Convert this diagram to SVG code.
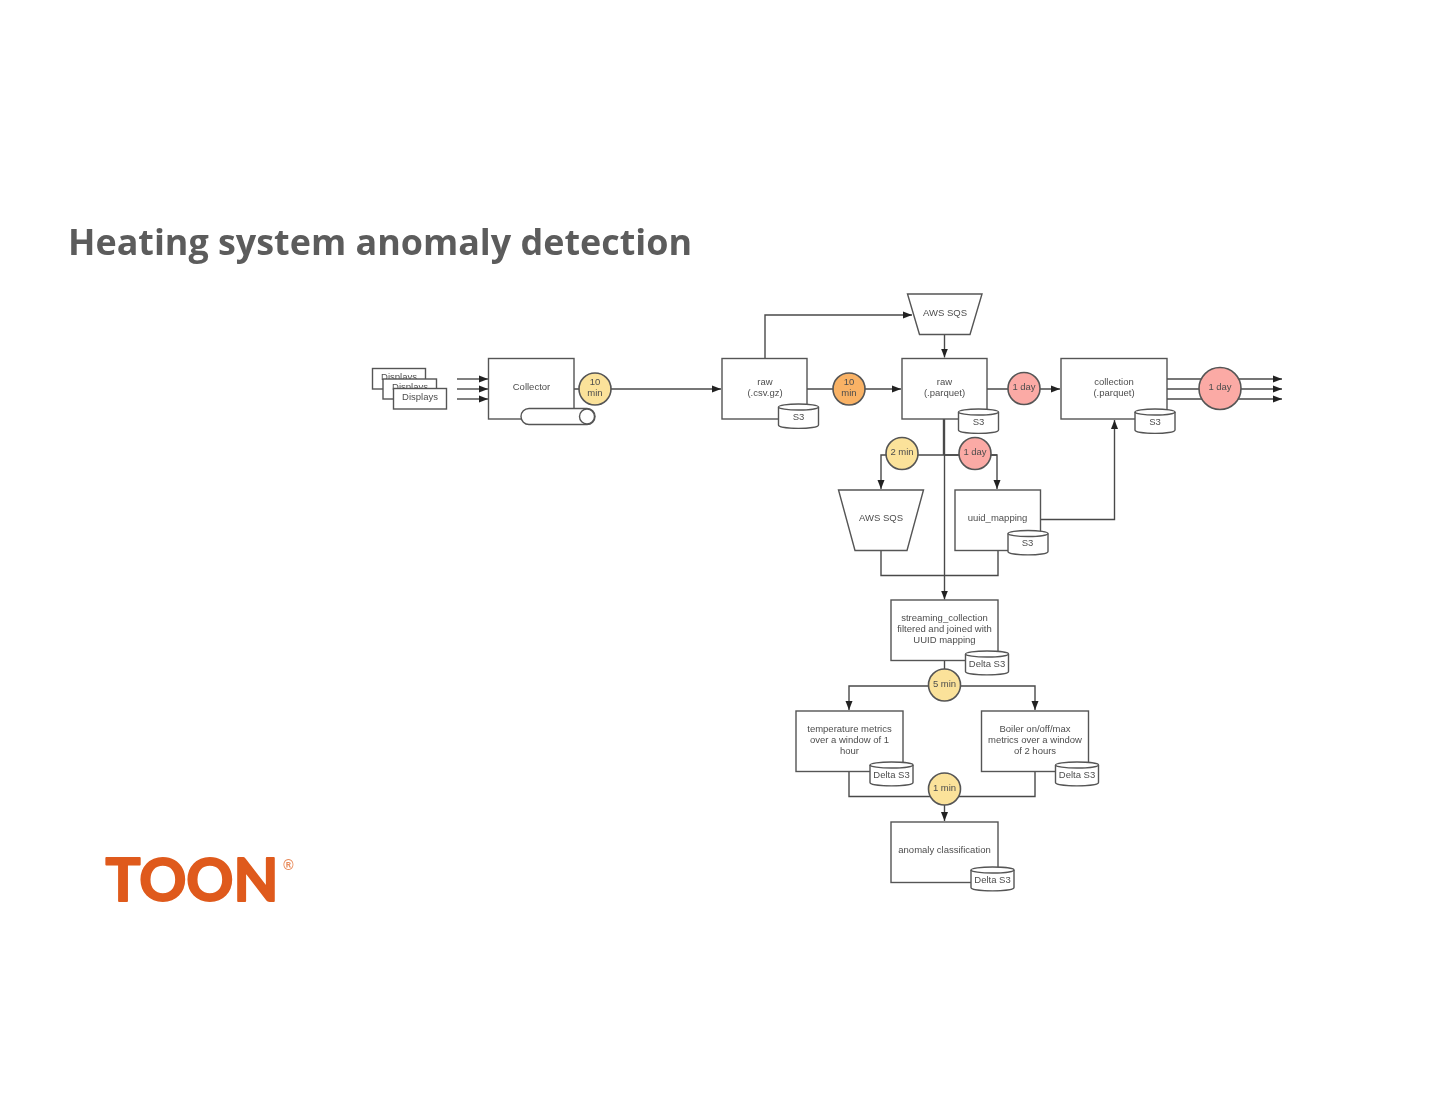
<svg xmlns="http://www.w3.org/2000/svg" width="1440" height="1114" viewBox="0 0 1440 1114">
<style>
.b{fill:#fff;stroke:#555;stroke-width:1.4}
.c{fill:none;stroke:#4a4a4a;stroke-width:1.4}
.t{font-family:"Liberation Sans",Arial,sans-serif;font-size:9.5px;fill:#4d4d4d;text-anchor:middle;transform:translateY(-0.8px)}
.y{fill:#fbe29a;stroke:#555;stroke-width:1.6}
.o{fill:#f9b265;stroke:#555;stroke-width:1.6}
.r{fill:#fbaaa5;stroke:#555;stroke-width:1.6}
</style>
<defs>
<filter id="soft" x="-5%" y="-5%" width="110%" height="110%"><feGaussianBlur stdDeviation="0.55"/></filter>
<filter id="soft2" x="-5%" y="-5%" width="110%" height="110%"><feGaussianBlur stdDeviation="0.6"/></filter>
<marker id="a" markerUnits="userSpaceOnUse" markerWidth="10" markerHeight="8" refX="9" refY="4" orient="auto"><path d="M0 0.5L9 4L0 7.500z" fill="#222"/></marker>
<g id="s3"><path class="b" d="M0 3.500V21.500C0 26 40 26 40 21.500V3.500"/><ellipse class="b" cx="20" cy="3.500" rx="20" ry="3"/></g>
<g id="ds3"><path class="b" d="M0 3.500V21C0 25.500 43 25.500 43 21V3.500"/><ellipse class="b" cx="21.500" cy="3.500" rx="21.500" ry="3"/></g>
</defs>
<rect width="1440" height="1114" fill="#fff"/>
<text id="title" x="68" y="255" font-family="'Open Sans','Noto Sans',sans-serif" font-weight="700" font-size="36px" fill="#5c5c5c" textLength="624" lengthAdjust="spacingAndGlyphs" filter="url(#soft2)">Heating system anomaly detection</text>
<g id="logo" filter="url(#soft2)">
<text x="105.500" y="901" font-family="Lato,'Open Sans',sans-serif" font-weight="700" font-size="59px" fill="#df5a1b" stroke="#df5a1b" stroke-width="2" stroke-linejoin="round" textLength="173" lengthAdjust="spacingAndGlyphs">TOON</text>
<text x="288.500" y="870" font-family="'Liberation Sans',sans-serif" font-size="14px" font-weight="700" fill="#e88a5a" text-anchor="middle">®</text>
</g>
<g filter="url(#soft)">
<g id="connectors">
<path class="c" d="M457 379H488" marker-end="url(#a)"/>
<path class="c" d="M457 389H488" marker-end="url(#a)"/>
<path class="c" d="M457 399H488" marker-end="url(#a)"/>
<path class="c" d="M574 389H721" marker-end="url(#a)"/>
<path class="c" d="M765 359V315H912" marker-end="url(#a)"/>
<path class="c" d="M944.500 334V357.500" marker-end="url(#a)"/>
<path class="c" d="M807 389H901" marker-end="url(#a)"/>
<path class="c" d="M987 389H1060" marker-end="url(#a)"/>
<path class="c" d="M1167 379H1282" marker-end="url(#a)"/>
<path class="c" d="M1167 389H1282" marker-end="url(#a)"/>
<path class="c" d="M1167 399H1282" marker-end="url(#a)"/>
<path class="c" d="M943.500 419V455" stroke-width="2"/>
<path class="c" d="M944.500 419V599.500" marker-end="url(#a)"/>
<path class="c" d="M997 455H881V489" marker-end="url(#a)"/>
<path class="c" d="M944 455H997V489" marker-end="url(#a)"/>
<path class="c" d="M1040 519.500H1114.500V420" marker-end="url(#a)"/>
<path class="c" d="M881 550V575.500H998V550"/>
<path class="c" d="M944.500 660V686"/>
<path class="c" d="M944.500 686H849V710" marker-end="url(#a)"/>
<path class="c" d="M944.500 686H1035V710" marker-end="url(#a)"/>
<path class="c" d="M849 771V796.500H1035V771"/>
<path class="c" d="M944.500 796.500V821" marker-end="url(#a)"/>
</g>
<g id="displays1"><rect class="b" x="372.500" y="368.500" width="53" height="20.500"/><text class="t" x="399" y="381">Displays</text></g>
<g id="displays2"><rect class="b" x="383" y="379" width="53.500" height="20"/><text class="t" x="410" y="391">Displays</text></g>
<g id="displays3"><rect class="b" x="393.500" y="388.500" width="53" height="20.500"/><text class="t" x="420" y="401">Displays</text></g>
<g id="collector"><rect class="b" x="488.500" y="358.500" width="85.500" height="60.500"/><text class="t" x="531.500" y="391">Collector</text>
<rect class="b" x="521" y="408.500" width="74" height="16" rx="8"/><circle class="b" cx="587" cy="416.500" r="7.500"/></g>
<g id="t10a"><circle class="y" cx="595" cy="389" r="16"/><text class="t" x="595" y="385.500">10</text><text class="t" x="595" y="396.500">min</text></g>
<g id="rawcsv"><rect class="b" x="722" y="358.500" width="85" height="60.500"/><text class="t" x="765" y="385.500">raw</text><text class="t" x="765" y="396.500">(.csv.gz)</text>
<use href="#s3" x="778.500" y="403.500"/><text class="t" x="798.500" y="421">S3</text></g>
<g id="t10b"><circle class="o" cx="849" cy="389" r="16"/><text class="t" x="849" y="385.500">10</text><text class="t" x="849" y="396.500">min</text></g>
<g id="sqs1"><path class="b" d="M907.500 294H982L970 334.500H919.500z"/><text class="t" x="945" y="316.500">AWS SQS</text></g>
<g id="rawparquet"><rect class="b" x="902" y="358.500" width="85" height="60.500"/><text class="t" x="944.500" y="385.500">raw</text><text class="t" x="944.500" y="396.500">(.parquet)</text>
<use href="#s3" x="958.500" y="408.500"/><text class="t" x="978.500" y="426">S3</text></g>
<g id="t1d1"><circle class="r" cx="1024" cy="388.500" r="16"/><text class="t" x="1024" y="391">1 day</text></g>
<g id="collection"><rect class="b" x="1061" y="358.500" width="106" height="60.500"/><text class="t" x="1114" y="385.500">collection</text><text class="t" x="1114" y="396.500">(.parquet)</text>
<use href="#s3" x="1135" y="408.500"/><text class="t" x="1155" y="426">S3</text></g>
<g id="t1d2"><circle class="r" cx="1220" cy="388.500" r="21"/><text class="t" x="1220" y="391">1 day</text></g>
<g id="t2m"><circle class="y" cx="902" cy="453.500" r="16"/><text class="t" x="902" y="456">2 min</text></g>
<g id="t1d3"><circle class="r" cx="975" cy="453.500" r="16"/><text class="t" x="975" y="456">1 day</text></g>
<g id="sqs2"><path class="b" d="M838.500 490H923.500L907 550.500H855z"/><text class="t" x="881" y="522">AWS SQS</text></g>
<g id="uuid"><rect class="b" x="955" y="490" width="85.500" height="60.500"/><text class="t" x="997.500" y="522">uuid_mapping</text>
<use href="#s3" x="1008" y="530"/><text class="t" x="1027.500" y="547">S3</text></g>
<g id="streaming"><rect class="b" x="891" y="600" width="107" height="60.500"/><text class="t" x="944.500" y="622">streaming_collection</text><text class="t" x="944.500" y="632.500">filtered and joined with</text><text class="t" x="944.500" y="643.500">UUID mapping</text>
<use href="#ds3" x="965.500" y="650.500"/><text class="t" x="987" y="668">Delta S3</text></g>
<g id="t5m"><circle class="y" cx="944.500" cy="685" r="16"/><text class="t" x="944.500" y="688">5 min</text></g>
<g id="temp"><rect class="b" x="796" y="711" width="107" height="60.500"/><text class="t" x="849.500" y="733">temperature metrics</text><text class="t" x="849.500" y="743.500">over a window of 1</text><text class="t" x="849.500" y="754.500">hour</text>
<use href="#ds3" x="870" y="761.500"/><text class="t" x="891.500" y="779">Delta S3</text></g>
<g id="boiler"><rect class="b" x="981.500" y="711" width="107" height="60.500"/><text class="t" x="1035" y="733">Boiler on/off/max</text><text class="t" x="1035" y="743.500">metrics over a window</text><text class="t" x="1035" y="754.500">of 2 hours</text>
<use href="#ds3" x="1055.500" y="761.500"/><text class="t" x="1077" y="779">Delta S3</text></g>
<g id="t1m"><circle class="y" cx="944.500" cy="789" r="16"/><text class="t" x="944.500" y="792">1 min</text></g>
<g id="anomaly"><rect class="b" x="891" y="822" width="107" height="60.500"/><text class="t" x="944.500" y="854">anomaly classification</text>
<use href="#ds3" x="971" y="866.500"/><text class="t" x="992.500" y="884">Delta S3</text></g>
</g>
</svg>
